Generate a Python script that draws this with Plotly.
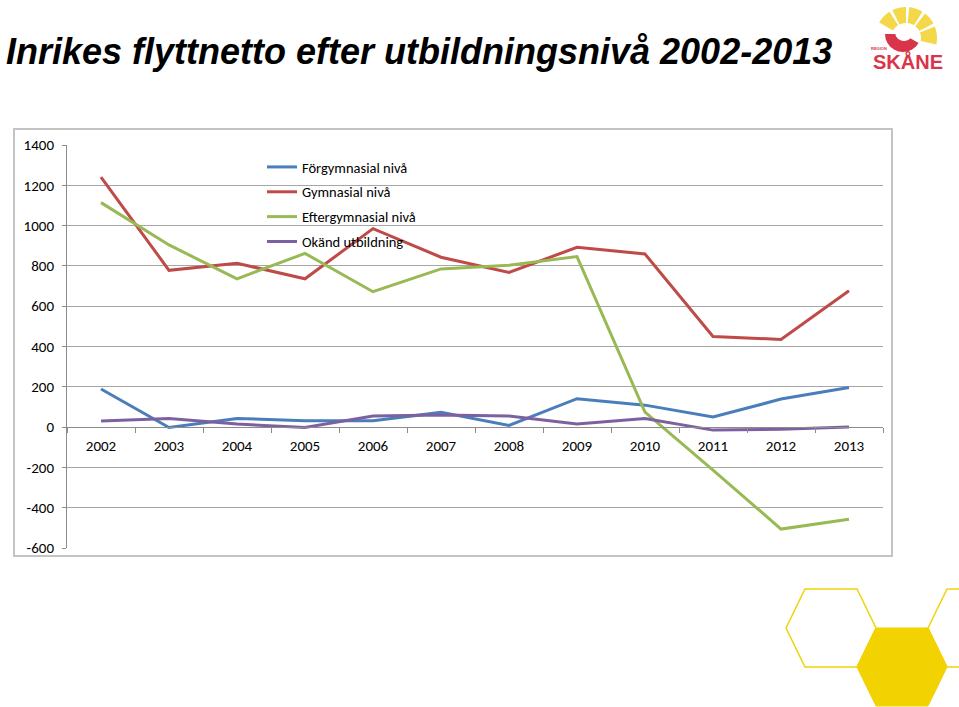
import math
import plotly.graph_objects as go

# -------------------------------------------------------
# Data
# -------------------------------------------------------
YEARS = ["2002", "2003", "2004", "2005", "2006", "2007",
         "2008", "2009", "2010", "2011", "2012", "2013"]

FORGYMNASIAL = [189, -2, 43, 31, 31, 73, 8, 141, 109, 50, 139, 197]
GYMNASIAL = [1241, 778, 813, 736, 985, 843, 768, 892, 859, 450, 435, 677]
EFTERGYMNASIAL = [1114, 904, 736, 862, 672, 785, 803, 846, 74, -213, -506, -457]
OKAND = [30, 43, 15, -2, 55, 60, 55, 15, 43, -15, -11, 0]

SERIES = [
    ("Förgymnasial nivå", FORGYMNASIAL, "#4a7ebb"),
    ("Gymnasial nivå", GYMNASIAL, "#be4b48"),
    ("Eftergymnasial nivå", EFTERGYMNASIAL, "#98b954"),
    ("Okänd utbildning", OKAND, "#7d60a0"),
]

Y_TICKS = [-600, -400, -200, 0, 200, 400, 600, 800, 1000, 1200, 1400]
Y_TICK_LABELS = ["-600", "-400", "-200", "0", "200", "400", "600",
                 "800", "1000", "1200", "1400"]

TITLE = "Inrikes flyttnetto efter utbildningsnivå 2002-2013"

# -------------------------------------------------------
# Page geometry (pixels)
# -------------------------------------------------------
W, H = 959, 707
L, R, T, B = 67, 76, 145, 159
PW, PH = W - L - R, H - T - B

FONT = "Carlito, Lato, Calibri, sans-serif"


def px(x, y):
    # pixel position -> paper coordinates
    return (x - L) / PW, (H - B - y) / PH


def path_from(points):
    parts = []
    for i, (x, y) in enumerate(points):
        u, v = px(x, y)
        parts.append(("M" if i == 0 else "L") + f"{u:.5f},{v:.5f}")
    return " ".join(parts) + " Z"


def sector(cx, cy, r0, r1, a0, a1, n=10):
    pts = []
    for k in range(n + 1):
        a = math.radians(a0 + (a1 - a0) * k / n)
        pts.append((cx + r1 * math.cos(a), cy - r1 * math.sin(a)))
    for k in range(n, -1, -1):
        a = math.radians(a0 + (a1 - a0) * k / n)
        pts.append((cx + r0 * math.cos(a), cy - r0 * math.sin(a)))
    return pts


fig = go.Figure()

for i, (name, vals, col) in enumerate(SERIES):
    fig.add_trace(go.Scatter(
        x=YEARS, y=vals, name=name, mode="lines",
        line=dict(color=col, width=3),
        legendgroup=f"g{i}",
    ))

shapes = []

# outer chart frame
x0, y0 = px(14, 129)
x1, y1 = px(892, 556)
shapes.append(dict(type="rect", xref="paper", yref="paper",
                   x0=x0, y0=y1, x1=x1, y1=y0,
                   line=dict(color="#c4c4c4", width=2), layer="below"))

# hexagon decorations (bottom right)
shapes.append(dict(type="path", xref="paper", yref="paper",
                   path=path_from([(786, 628), (805, 589), (857, 589), (876, 628),
                                   (857, 667), (805, 667)]),
                   line=dict(color="#f2d20a", width=1.5)))
shapes.append(dict(type="path", xref="paper", yref="paper",
                   path=path_from([(857, 667), (876, 628), (928, 628), (947, 667),
                                   (928, 706), (876, 706)]),
                   fillcolor="#f2d200", line=dict(color="#f2d200", width=1)))
shapes.append(dict(type="path", xref="paper", yref="paper",
                   path=path_from([(928, 628), (947, 589), (999, 589), (1018, 628),
                                   (999, 667), (947, 667)]),
                   line=dict(color="#f2d20a", width=1.5)))

# logo: yellow rays + red swoosh
for a0, a1 in [(150, 122), (116, 90), (84, 58), (52, 28), (22, -12)]:
    shapes.append(dict(type="path", xref="paper", yref="paper",
                       path=path_from(sector(906, 38, 15, 31, a0, a1)),
                       fillcolor="#f4d84a", line=dict(width=0)))
shapes.append(dict(type="path", xref="paper", yref="paper",
                   path=path_from(sector(903, 34, 0, 18, 180, 330)),
                   fillcolor="#d9354a", line=dict(width=0)))
shapes.append(dict(type="path", xref="paper", yref="paper",
                   path=path_from(sector(904, 32, 0, 9, 160, 320)),
                   fillcolor="white", line=dict(width=0)))

annotations = []
tx, ty = px(4, 52)
annotations.append(dict(text=f"<b><i>{TITLE}</i></b>", xref="paper", yref="paper",
                        x=tx, y=ty, xanchor="left", yanchor="middle", showarrow=False,
                        font=dict(family="Liberation Sans Narrow, Arial Narrow, Liberation Sans, sans-serif",
                                  size=36, color="black")))
lx, ly = px(908, 61)
annotations.append(dict(text="<b>SKÅNE</b>", xref="paper", yref="paper",
                        x=lx, y=ly, xanchor="center", yanchor="middle", showarrow=False,
                        font=dict(family="Liberation Sans, sans-serif", size=20, color="#d9354a")))
rx, ry = px(879, 49)
annotations.append(dict(text="<b>REGION</b>", xref="paper", yref="paper",
                        x=rx, y=ry, xanchor="center", yanchor="middle", showarrow=False,
                        font=dict(family="Liberation Sans, sans-serif", size=4, color="#d9354a")))

zero_pos = (0 - Y_TICKS[0]) / (Y_TICKS[-1] - Y_TICKS[0])
leg_x, leg_y = px(262, 151)

fig.update_layout(
    width=W, height=H,
    margin=dict(l=L, r=R, t=T, b=B, autoexpand=False),
    paper_bgcolor="white", plot_bgcolor="white",
    font=dict(family=FONT, size=15, color="black"),
    showlegend=True,
    legend=dict(x=leg_x, y=leg_y, xanchor="left", yanchor="top",
                bgcolor="rgba(0,0,0,0)", font=dict(size=14.5),
                tracegroupgap=3, itemwidth=30),
    xaxis=dict(type="category", categoryorder="array", categoryarray=YEARS,
               range=[-0.5, len(YEARS) - 0.5],
               anchor="free", position=zero_pos,
               showline=True, linecolor="#8c8c8c", linewidth=1,
               ticks="outside", tickson="boundaries", ticklen=5, tickcolor="#8c8c8c",
               showgrid=False, tickfont=dict(size=15), ticklabelstandoff=5),
    yaxis=dict(range=[Y_TICKS[0], Y_TICKS[-1]], tickvals=Y_TICKS, ticktext=Y_TICK_LABELS,
               showline=True, linecolor="#8c8c8c", linewidth=1,
               ticks="outside", ticklen=4, tickcolor="#8c8c8c",
               showgrid=True, gridcolor="#a6a6a6", gridwidth=1,
               zeroline=False, tickfont=dict(size=15), ticklabelstandoff=5),
    shapes=shapes,
    annotations=annotations,
)

# drop the default page margin so the figure sits at the window origin
fig.write_html("out.html", config={"displayModeBar": False},
               post_script="document.body.style.margin='0';")
